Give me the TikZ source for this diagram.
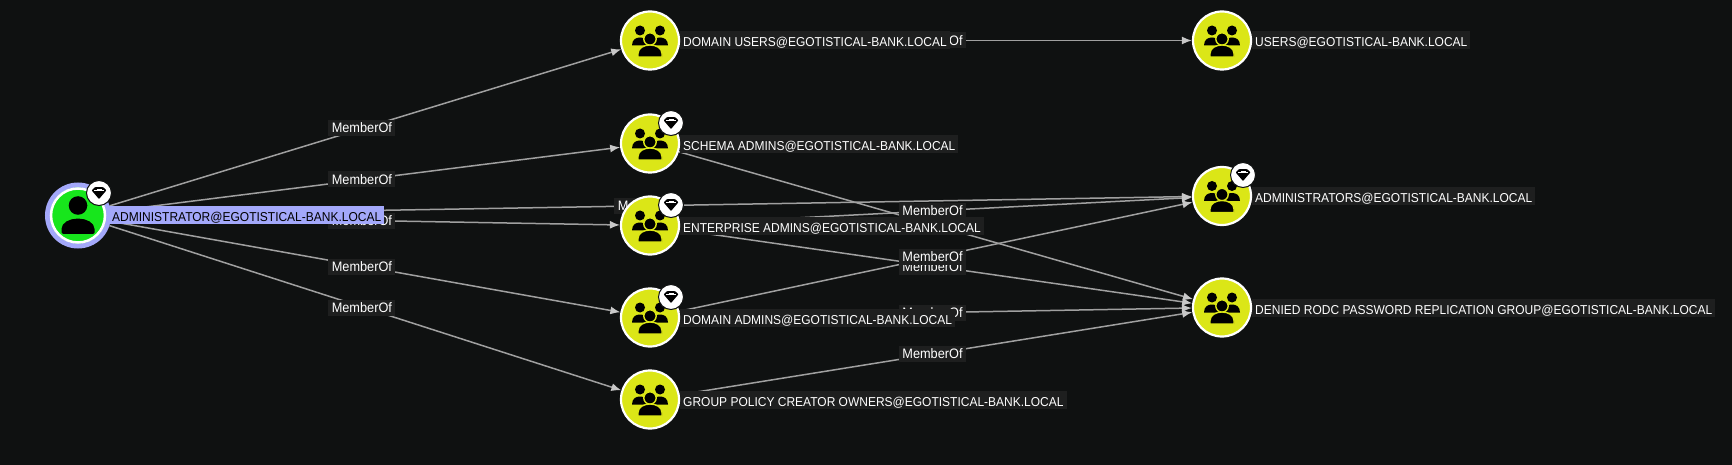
\documentclass[tikz,border=0pt]{standalone}
\usepackage{fontspec}
\setmainfont[FakeStretch=0.93]{Liberation Sans}
\usetikzlibrary{arrows.meta,calc}
\definecolor{bgc}{HTML}{0F1111}
\definecolor{lblc}{HTML}{1E1F1F}
\definecolor{edgec}{HTML}{A0A0A0}
\definecolor{tipc}{HTML}{C8C8C8}
\definecolor{yel}{HTML}{DBE617}
\definecolor{grn}{HTML}{17E61C}
\definecolor{lil}{HTML}{A3A8FA}
\pgfdeclarelayer{bglayer}
\pgfdeclarelayer{edgelayer}
\pgfdeclarelayer{elabellayer}
\pgfsetlayers{bglayer,edgelayer,elabellayer,main}
\tikzset{
  grp/.style={circle,draw=white,line width=2.2pt,fill=yel,minimum size=58pt,inner sep=0pt},
  usr/.style={circle,draw=lil,line width=5pt,fill=grn,minimum size=61pt,inner sep=0pt},
  usrring/.style={circle,draw=white,line width=2.5pt,minimum size=54pt,inner sep=0pt},
  badge/.style={circle,draw=bgc,line width=1pt,fill=white,minimum size=25pt,inner sep=0pt},
  nlabel/.style={anchor=west,fill=lblc,text=white,font=\fontsize{12.9}{15}\selectfont,inner xsep=3pt,inner ysep=0pt,text height=14.8pt,text depth=2.5pt},
  sellabel/.style={nlabel,fill=lil,text=black},
  elabel/.style={fill=lblc,text=white,font=\fontsize{13.7}{15}\selectfont,inner xsep=3pt,inner ysep=0pt,minimum height=16pt,minimum width=67pt,xshift=-3.5pt},
  edgeline/.style={draw=edgec,line width=1.5pt,-{Latex[length=10pt,width=8pt,color=tipc]}},
}
\newcommand{\mo}[3]{%
  \begin{pgfonlayer}{edgelayer}\draw[edgeline] (#1) -- (#2);\end{pgfonlayer}%
  \begin{pgfonlayer}{elabellayer}\path (#1) -- (#2) node[elabel,midway] (#3) {MemberOf};\end{pgfonlayer}%
}
\newcommand{\grpicon}[1]{%
  \begin{scope}[shift={(#1.center)}]
    \fill[black] (-10,-10) circle[radius=5];
    \fill[black] (10,-10) circle[radius=5];
    \fill[black] (-18,5) .. controls (-18,-1) and (-14,-3) .. (-10,-3) .. controls (-6,-3) and (-2,-1) .. (-2,5) -- cycle;
    \fill[black] (18,5) .. controls (18,-1) and (14,-3) .. (10,-3) .. controls (6,-3) and (2,-1) .. (2,5) -- cycle;
    \filldraw[black,draw=yel,line width=1.4pt] (0,-1.5) circle[radius=6.2];
    \filldraw[black,draw=yel,line width=1.4pt] (-12,16.6) -- (-12,13) .. controls (-12,7.5) and (-6,4.5) .. (0,4.5) .. controls (6,4.5) and (12,7.5) .. (12,13) -- (12,16.6) -- cycle;
  \end{scope}}
\newcommand{\usricon}[1]{%
  \begin{scope}[shift={(#1.center)}]
    \fill[black] (0,-10) circle[radius=9.3];
    \fill[black,rounded corners=1.5pt] (-16.5,18.5) -- (-16.5,15) .. controls (-16.5,7) and (-8,3.2) .. (0,3.2) .. controls (8,3.2) and (16.5,7) .. (16.5,15) -- (16.5,18.5) -- cycle;
  \end{scope}}
\newcommand{\gem}[1]{%
  \begin{scope}[shift={(#1.center)}]
    \fill[black,rounded corners=0.6pt] (-7.4,-2.6) -- (-4.2,-5.8) -- (4.2,-5.8) -- (7.4,-2.6) -- (0,6) -- cycle;
    \draw[white,line width=0.45pt] (-5,-2.4) -- (5,-2.4);
    \draw[white,line width=0.45pt] (-2.5,-4.2) -- (2.5,-4.2);
  \end{scope}}
\begin{document}
\begin{tikzpicture}[x=1pt,y=-1pt]
\begin{pgfonlayer}{bglayer}
\fill[bgc] (0,0) rectangle (1732,465);
\end{pgfonlayer}
\useasboundingbox (0,0) rectangle (1732,465);
% node labels go first so that the circles sit above them
\node[sellabel] (ladmin) at (105,215) {\hspace{4pt}ADMINISTRATOR@EGOTISTICAL-BANK.LOCAL};
\node[nlabel] (ldu) at (680,40) {DOMAIN USERS@EGOTISTICAL-BANK.LOCAL};
\node[nlabel] (lsa) at (680,144) {SCHEMA ADMINS@EGOTISTICAL-BANK.LOCAL};
\node[nlabel] (lea) at (680,226) {ENTERPRISE ADMINS@EGOTISTICAL-BANK.LOCAL};
\node[nlabel] (lda) at (680,318) {DOMAIN ADMINS@EGOTISTICAL-BANK.LOCAL};
\node[nlabel] (lgp) at (680,400) {GROUP POLICY CREATOR OWNERS@EGOTISTICAL-BANK.LOCAL};
\node[nlabel] (lus) at (1252,40) {USERS@EGOTISTICAL-BANK.LOCAL};
\node[nlabel] (lad) at (1252,196) {ADMINISTRATORS@EGOTISTICAL-BANK.LOCAL};
\node[nlabel] (lde) at (1252,308) {DENIED RODC PASSWORD REPLICATION GROUP@EGOTISTICAL-BANK.LOCAL};
% nodes
\node[usr] (admin) at (78,215.5) {};
\node[usrring] (adminring) at (78,215.5) {};
\node[grp] (du) at (650,40.5) {};
\node[grp] (sa) at (650,143.5) {};
\node[grp] (ea) at (650,225.5) {};
\node[grp] (da) at (650,317.5) {};
\node[grp] (gp) at (650,399.5) {};
\node[grp] (us) at (1222,40.5) {};
\node[grp] (ad) at (1222,196) {};
\node[grp] (de) at (1222,307.5) {};
\usricon{admin}
\grpicon{du}\grpicon{sa}\grpicon{ea}\grpicon{da}\grpicon{gp}\grpicon{us}\grpicon{ad}\grpicon{de}
% badges
\node[badge] (badmin) at (99,193) {};
\node[badge] (bsa) at (671,123) {};
\node[badge] (bea) at (671,205) {};
\node[badge] (bda) at (671,297) {};
\node[badge] (bad) at (1243,175) {};
\gem{badmin}\gem{bsa}\gem{bea}\gem{bda}\gem{bad}
% edges
\mo{admin}{ad}{e1}
\mo{admin}{du}{e2}
\mo{admin}{sa}{e3}
\mo{admin}{ea}{e4}
\mo{admin}{da}{e5}
\mo{admin}{gp}{e6}
\mo{du}{us}{e7}
\mo{sa}{de}{e8}
\mo{ea}{ad}{e9}
\mo{da}{de}{e10}
\mo{ea}{de}{e11}
\mo{da}{ad}{e12}
\mo{gp}{de}{e13}
\end{tikzpicture}
\end{document}
